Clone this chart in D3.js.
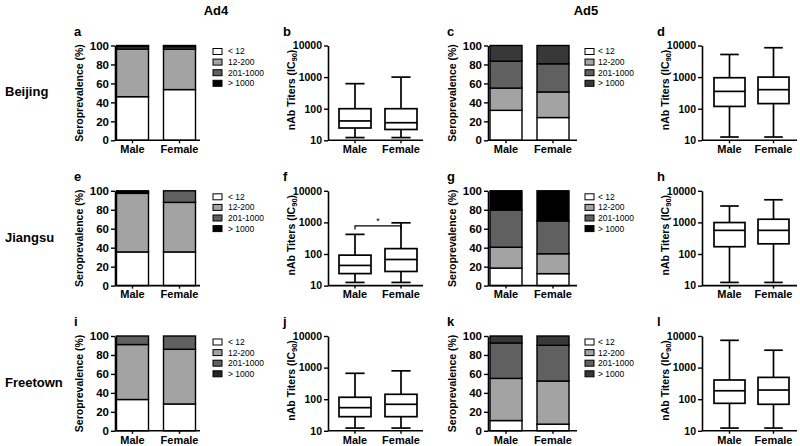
<!DOCTYPE html>
<html><head><meta charset="utf-8">
<script src="https://cdn.jsdelivr.net/npm/d3@7"></script>
<style>
body{margin:0;background:#fff}
svg{display:block}
text{font-family:Arial,"Liberation Sans",sans-serif}
</style>
</head><body><svg id="chart" width="800" height="446"></svg>
<script>
// ---------------- data ----------------
const groups = ["Male", "Female"];
const bins = ["< 12", "12-200", "201-1000", "> 1000"];
const regions = ["Beijing", "Jiangsu", "Freetown"];
const viruses = ["Ad4", "Ad5"];
const panelLetters = ["a","b","c","d","e","f","g","h","i","j","k","l"];
const pctTicks = [0, 20, 40, 60, 80, 100];
const titerTicks = [10, 100, 1000, 10000];

// Seroprevalence (%) by titer bin [<12, 12-200, 201-1000, >1000]; [Male, Female]
const seroAd4Beijing  = [[46, 50.3, 2.5, 1.2], [53.5, 42.7, 2.5, 1.3]];
const seroAd5Beijing  = [[31.6, 23.5, 28.4, 16.5], [24, 27, 29.7, 19.3]];
const seroAd4Jiangsu  = [[35.5, 61.8, 1.5, 1.2], [35.5, 52.3, 12.2, 0]];
const seroAd5Jiangsu  = [[18.5, 22, 39.2, 20.3], [12.6, 21, 34.6, 31.8]];
const seroAd4Freetown = [[33, 58, 9, 0], [28.3, 57.7, 14, 0]];
const seroAd5Freetown = [[10.8, 44.5, 37.4, 7.3], [7, 45.5, 37.7, 9.8]];

// nAb titers (IC90) box stats [min, q1, median, q3, max]; [Male, Female]
const titerAd4Beijing  = [[12.2, 24.5, 41, 100, 620], [12.2, 22, 36, 100, 1000]];
const titerAd5Beijing  = [[12.7, 118, 353, 955, 5200], [12.7, 145, 400, 1000, 8500]];
const titerAd4Jiangsu  = [[12.6, 24, 43.5, 92, 418], [12.6, 28, 67, 148, 970]];
const titerAd5Jiangsu  = [[12.6, 170, 560, 990, 3300], [12.6, 210, 560, 1260, 5200]];
const titerAd4Freetown = [[12.2, 28, 54, 115, 660], [12.2, 28, 69, 143, 790]];
const titerAd5Freetown = [[12.2, 74, 185, 405, 7300], [12.2, 69, 195, 490, 3550]];

// significance annotations: panel f (Ad4 Jiangsu)
const sigAd4Jiangsu = [["Male", "Female", "*"]];

// ---------------- layout / style ----------------
const svg = d3.select("#chart");
const rowTops = [45.5, 190.8, 336];
const plotH = 94.8;
const cols = [
  {axisX: 115, bandStart: 116.5, bw: 32, gap: 15, xEnd: 200, legX: 213, legTextX: 228},
  {axisX: 328, bandStart: 339, bw: 32, gap: 14, xEnd: 423},
  {axisX: 488, bandStart: 490, bw: 32, gap: 15, xEnd: 577, legX: 585, legTextX: 598},
  {axisX: 702, bandStart: 714, bw: 31, gap: 13, xEnd: 797}
];
const binFillBase = ["#ffffff", "#a3a3a3", "#606060"];

const panels = [
  {row:0, col:0, type:"bar", data: seroAd4Beijing, dark:"#000000"},
  {row:0, col:1, type:"box", data: titerAd4Beijing},
  {row:0, col:2, type:"bar", data: seroAd5Beijing, dark:"#383838"},
  {row:0, col:3, type:"box", data: titerAd5Beijing},
  {row:1, col:0, type:"bar", data: seroAd4Jiangsu, dark:"#000000"},
  {row:1, col:1, type:"box", data: titerAd4Jiangsu, sig: sigAd4Jiangsu},
  {row:1, col:2, type:"bar", data: seroAd5Jiangsu, dark:"#000000"},
  {row:1, col:3, type:"box", data: titerAd5Jiangsu},
  {row:2, col:0, type:"bar", data: seroAd4Freetown, dark:"#262626"},
  {row:2, col:1, type:"box", data: titerAd4Freetown},
  {row:2, col:2, type:"bar", data: seroAd5Freetown, dark:"#383838"},
  {row:2, col:3, type:"box", data: titerAd5Freetown}
];

// titles
svg.append("text").attr("x", 216).attr("y", 15).attr("text-anchor","middle")
  .attr("font-size", 13).attr("font-weight","bold").text(viruses[0]);
svg.append("text").attr("x", 586).attr("y", 15).attr("text-anchor","middle")
  .attr("font-size", 13).attr("font-weight","bold").text(viruses[1]);
regions.forEach((r, i) => {
  svg.append("text").attr("x", 5).attr("y", rowTops[i] + plotH/2 - 1)
    .attr("font-size", 13).attr("font-weight","bold").attr("dy","0.35em").text(r);
});

function styleAxis(ax, fs) {
  ax.select(".domain").attr("stroke","#000").attr("stroke-width",1.6);
  ax.selectAll(".tick line").attr("stroke","#000").attr("stroke-width",1.4);
  ax.selectAll(".tick text").attr("font-size", fs).attr("font-weight","bold")
    .attr("font-family","Arial, 'Liberation Sans', sans-serif").attr("fill","#000");
}

panels.forEach((p, idx) => {
  const c = cols[p.col];
  const top = rowTops[p.row];
  const bottom = top + plotH;
  const g = svg.append("g");
  const x = d3.scaleBand().domain(groups)
    .range([c.bandStart, c.bandStart + 2*c.bw + c.gap])
    .paddingInner(c.gap/(c.bw + c.gap)).paddingOuter(0);

  // panel letter
  g.append("text").attr("x", c.axisX - (p.type === "bar" ? 41 : 45)).attr("y", top - 10)
    .attr("font-size", 13).attr("font-weight","bold").text(panelLetters[idx]);

  let y;
  if (p.type === "bar") {
    y = d3.scaleLinear().domain([0, 100]).range([bottom, top]);
    const rows = groups.map((gn, i) => {
      const o = {group: gn};
      bins.forEach((b, j) => o[b] = p.data[i][j]);
      return o;
    });
    const series = d3.stack().keys(bins)(rows);
    const fills = binFillBase.concat([p.dark]);
    series.forEach((s, j) => {
      g.selectAll(null).data(s.filter(d => d[1] - d[0] > 0)).join("rect")
        .attr("x", d => x(d.data.group))
        .attr("width", x.bandwidth())
        .attr("y", d => y(d[1]))
        .attr("height", d => y(d[0]) - y(d[1]))
        .attr("fill", fills[j]).attr("stroke","#000").attr("stroke-width",1.4);
    });
    // legend
    const lg = g.append("g");
    bins.forEach((b, j) => {
      const cy = top + 6 + j*10.6;
      lg.append("rect").attr("x", c.legX).attr("y", cy - 3).attr("width", 9).attr("height", 6)
        .attr("fill", fills[j]).attr("stroke","#000").attr("stroke-width",1);
      lg.append("text").attr("x", c.legTextX).attr("y", cy).attr("dy","0.35em")
        .attr("font-size", 8.5).text(b);
    });
    const ya = g.append("g").attr("transform", `translate(${c.axisX},0)`)
      .call(d3.axisLeft(y).tickValues(pctTicks).tickSize(4).tickSizeOuter(0).tickPadding(2));
    styleAxis(ya, 11.5);
    g.append("text").attr("transform", `translate(${c.axisX - 36},${(top+bottom)/2}) rotate(-90)`)
      .attr("text-anchor","middle").attr("dy","0.35em").attr("font-size",10.5).attr("font-weight","bold")
      .text("Seroprevalence (%)");
  } else {
    y = d3.scaleLog().domain([10, 10000]).range([bottom, top]);
    const bw = x.bandwidth();
    const capW = bw * 0.6;
    groups.forEach((gn, i) => {
      const [mn, q1, md, q3, mx] = p.data[i];
      const cx = x(gn) + bw/2;
      const bg = g.append("g").attr("stroke","#000").attr("stroke-width",1.7).attr("fill","none");
      bg.append("line").attr("x1",cx).attr("x2",cx).attr("y1",y(mx)).attr("y2",y(q3));
      bg.append("line").attr("x1",cx).attr("x2",cx).attr("y1",y(q1)).attr("y2",y(mn));
      bg.append("line").attr("x1",cx-capW/2).attr("x2",cx+capW/2).attr("y1",y(mx)).attr("y2",y(mx));
      bg.append("line").attr("x1",cx-capW/2).attr("x2",cx+capW/2).attr("y1",y(mn)).attr("y2",y(mn));
      bg.append("rect").attr("x", x(gn)).attr("width", bw).attr("y", y(q3)).attr("height", y(q1)-y(q3)).attr("fill","#fff");
      bg.append("line").attr("x1",x(gn)).attr("x2",x(gn)+bw).attr("y1",y(md)).attr("y2",y(md));
    });
    if (p.sig) {
      p.sig.forEach(([a, b, lab]) => {
        const xa = x(a) + bw/2, xb = x(b) + bw/2;
        const yy = y(1000) + 3.5;
        g.append("path").attr("d", `M${xa},${yy+3.5}V${yy}H${xb}V${yy+3.5}`)
          .attr("fill","none").attr("stroke","#000").attr("stroke-width",1.2);
        g.append("text").attr("x",(xa+xb)/2).attr("y", yy - 2).attr("text-anchor","middle")
          .attr("font-size",9).text(lab);
      });
    }
    const ya = g.append("g").attr("transform", `translate(${c.axisX},0)`)
      .call(d3.axisLeft(y).tickValues(titerTicks).tickFormat(d3.format("d")).tickSize(4).tickSizeOuter(0).tickPadding(2));
    styleAxis(ya, 10.5);
    const t = g.append("text").attr("transform", `translate(${c.axisX - 37},${(top+bottom)/2 - 3}) rotate(-90)`)
      .attr("text-anchor","middle").attr("dy","0.35em").attr("font-size",10.5).attr("font-weight","bold");
    t.append("tspan").text("nAb Titers (IC");
    t.append("tspan").attr("font-size",7.5).attr("dy","2.5").text("90");
    t.append("tspan").attr("dy","-2.5").text(")");
  }
  // x axis
  const xa = g.append("g").attr("transform", `translate(0,${bottom})`)
    .call(d3.axisBottom(x).tickSize(3).tickSizeOuter(0).tickPadding(2));
  xa.select(".domain").attr("d", `M${c.axisX},0H${c.xEnd}`);
  styleAxis(xa, 11);
});
</script>
</body></html>
